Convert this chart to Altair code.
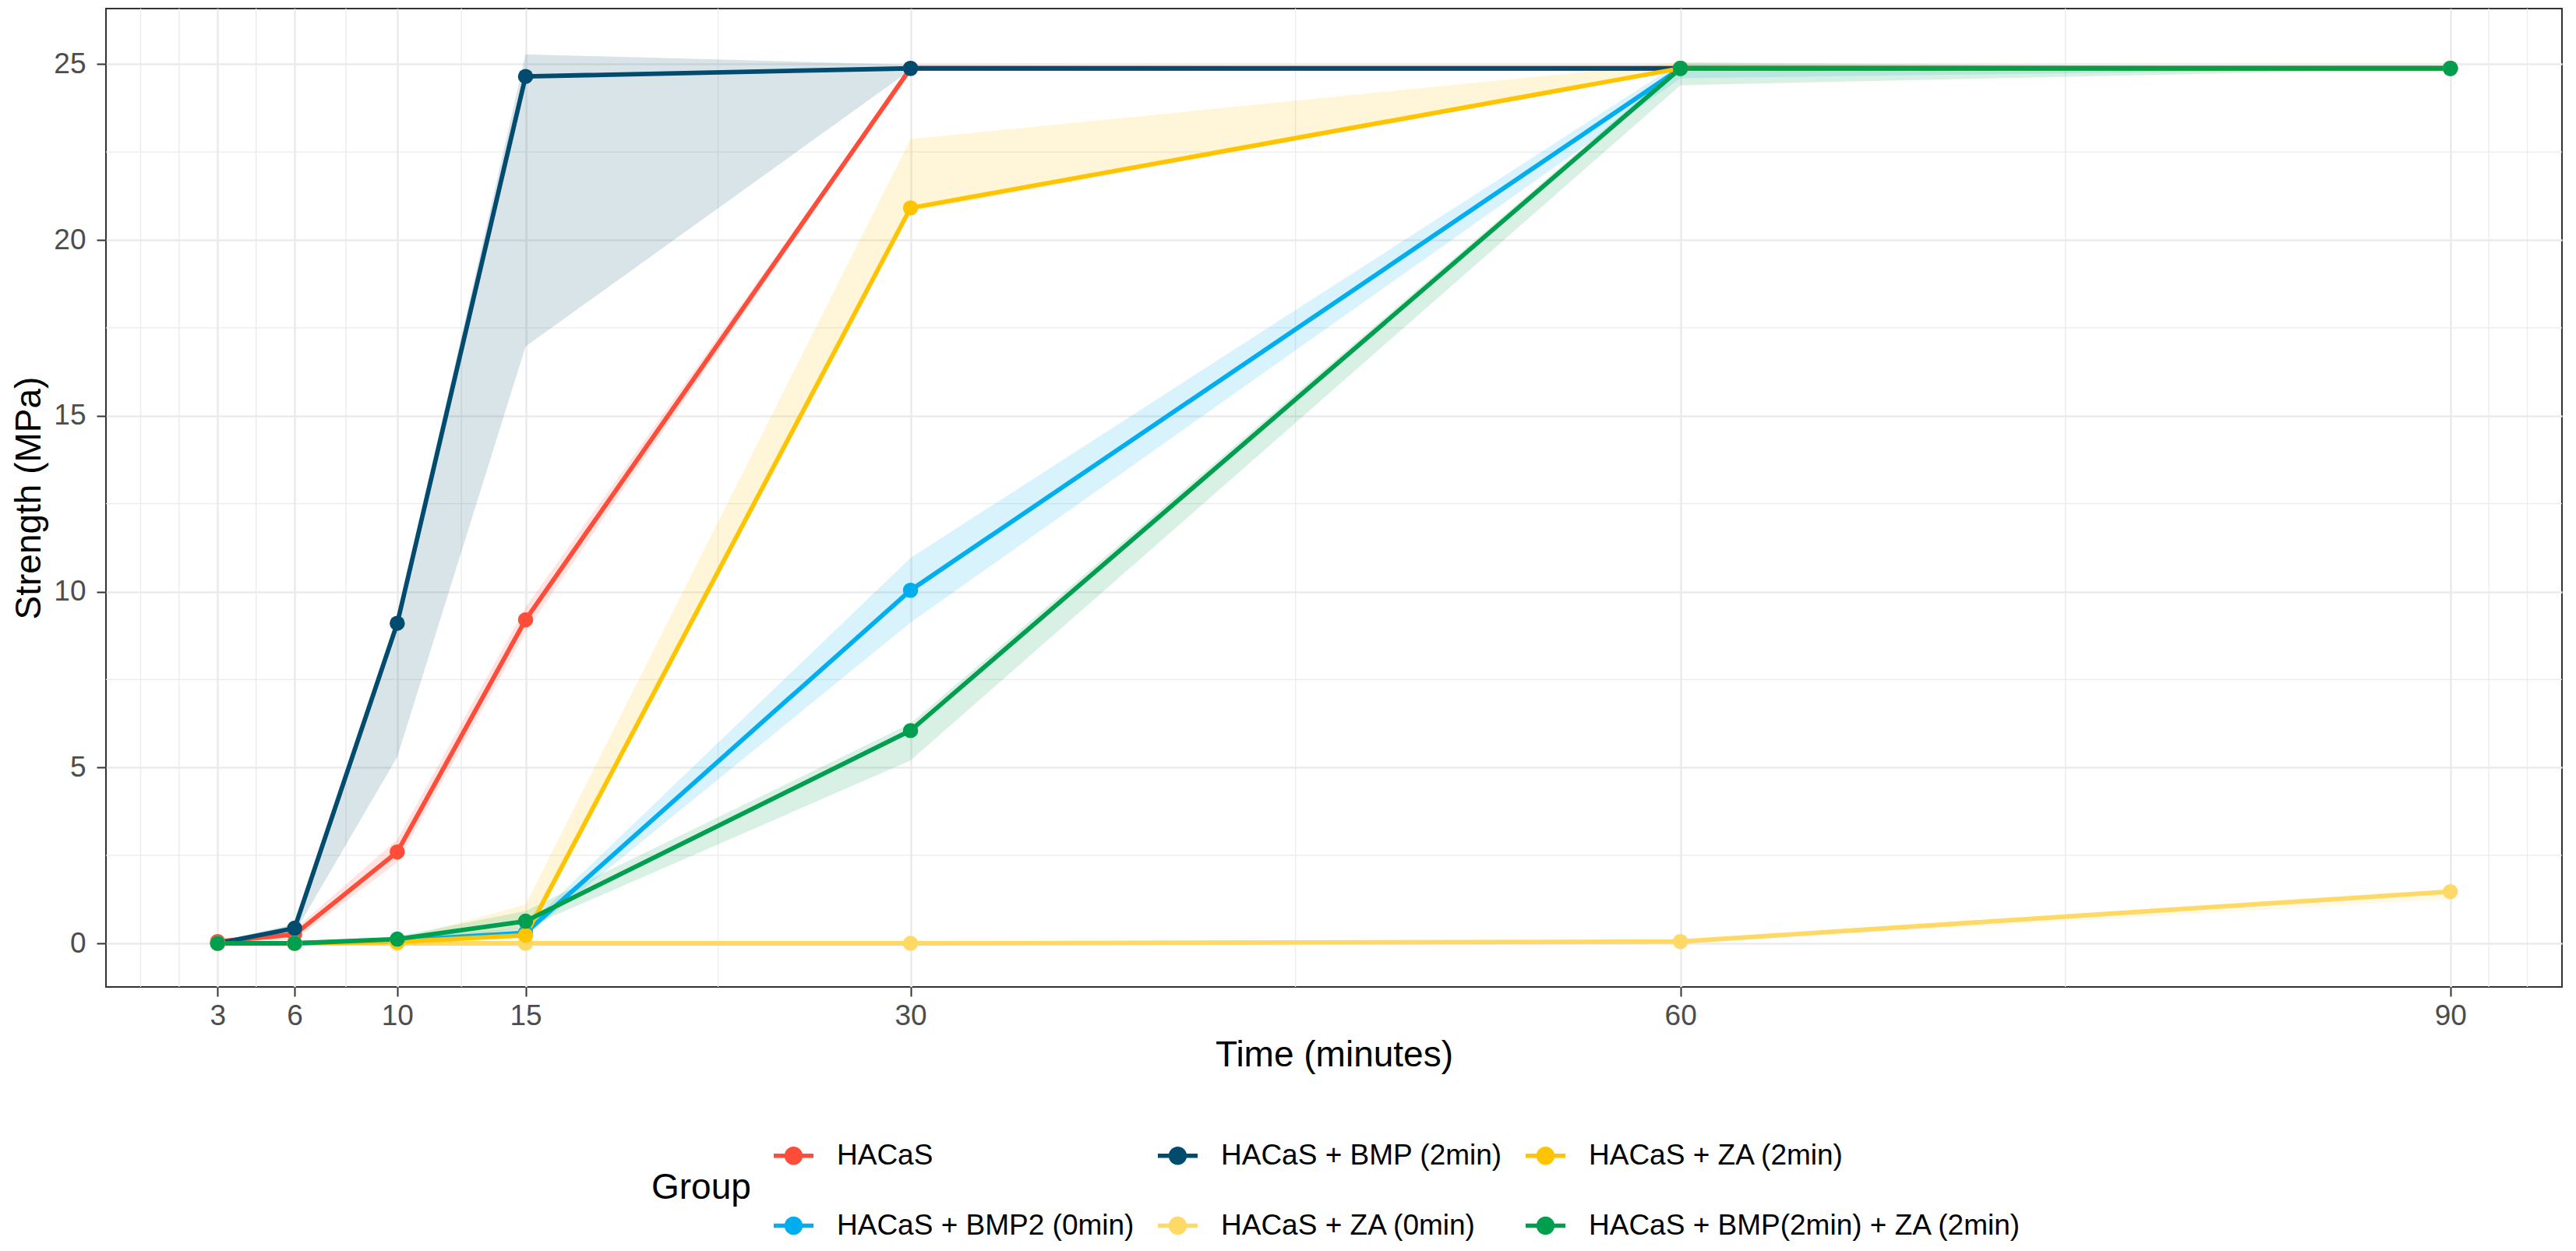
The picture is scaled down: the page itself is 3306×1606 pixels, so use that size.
import altair as alt
import pandas as pd

# ---------------- data ----------------
times = [3, 6, 10, 15, 30, 60, 90]

groups_z = [
    "HACaS",
    "HACaS + BMP2 (0min)",
    "HACaS + BMP (2min)",
    "HACaS + ZA (0min)",
    "HACaS + ZA (2min)",
    "HACaS + BMP(2min) + ZA (2min)",
]
legend_order = [
    "HACaS",
    "HACaS + BMP (2min)",
    "HACaS + ZA (2min)",
    "HACaS + BMP2 (0min)",
    "HACaS + ZA (0min)",
    "HACaS + BMP(2min) + ZA (2min)",
]
legend_colors = ["#FF4D3A", "#004B6E", "#FFC400", "#00AEEF", "#FFD966", "#009E4F"]

hacas_mean = [0.05, 0.25, 2.60, 9.20, 24.88, 24.88, 24.88]
hacas_lo   = [0.00, 0.10, 2.30, 8.85, 24.83, 24.88, 24.88]
hacas_hi   = [0.10, 0.40, 2.95, 9.55, 24.93, 24.88, 24.88]

bmp2_0_mean = [0.00, 0.00, 0.08, 0.30, 10.04, 24.88, 24.88]
bmp2_0_lo   = [0.00, 0.00, 0.03, 0.20, 9.12, 24.60, 24.88]
bmp2_0_hi   = [0.02, 0.02, 0.13, 0.45, 10.96, 25.05, 24.88]

bmp_2_mean = [0.00, 0.43, 9.10, 24.65, 24.88, 24.88, 24.88]
bmp_2_lo   = [0.00, 0.30, 5.30, 16.97, 24.83, 24.88, 24.88]
bmp_2_hi   = [0.05, 0.55, 9.25, 25.28, 24.98, 24.88, 24.88]

za_0_mean = [0.00, 0.00, 0.00, 0.00, 0.00, 0.05, 1.47]
za_0_lo   = [0.00, 0.00, 0.00, 0.00, 0.00, 0.00, 1.25]
za_0_hi   = [0.02, 0.02, 0.02, 0.02, 0.03, 0.10, 1.55]

za_2_mean = [0.00, 0.00, 0.04, 0.23, 20.91, 24.88, 24.88]
za_2_lo   = [0.00, 0.00, 0.00, 0.15, 20.80, 24.85, 24.88]
za_2_hi   = [0.02, 0.02, 0.10, 1.10, 22.87, 25.05, 24.88]

bmpza_mean = [0.00, 0.00, 0.12, 0.63, 6.05, 24.88, 24.88]
bmpza_lo   = [0.00, 0.00, 0.05, 0.43, 5.20, 24.40, 24.88]
bmpza_hi   = [0.02, 0.03, 0.20, 0.92, 6.25, 25.00, 24.88]

series = {
    "HACaS": (hacas_mean, hacas_lo, hacas_hi),
    "HACaS + BMP2 (0min)": (bmp2_0_mean, bmp2_0_lo, bmp2_0_hi),
    "HACaS + BMP (2min)": (bmp_2_mean, bmp_2_lo, bmp_2_hi),
    "HACaS + ZA (0min)": (za_0_mean, za_0_lo, za_0_hi),
    "HACaS + ZA (2min)": (za_2_mean, za_2_lo, za_2_hi),
    "HACaS + BMP(2min) + ZA (2min)": (bmpza_mean, bmpza_lo, bmpza_hi),
}

x_ticks = [3, 6, 10, 15, 30, 60, 90]
y_ticks = [0, 5, 10, 15, 20, 25]
x_minor = [0, 1.5, 4.5, 8, 12.5, 22.5, 45, 75, 91.5, 93]
y_minor = [2.5, 7.5, 12.5, 17.5, 22.5]

# ---------------- table ----------------
rows = []
for g in groups_z:
    m, lo, hi = series[g]
    for t, a, b, c in zip(times, m, lo, hi):
        rows.append({"Time": t, "Group": g, "Strength": a, "Lo": b, "Hi": c})
df = pd.DataFrame(rows)

W, H = 3152, 1256
FONT = "Liberation Sans"
xscale = alt.Scale(domain=[-1.35, 94.35], nice=False, zero=False)
yscale = alt.Scale(domain=[-1.24, 26.58], nice=False, zero=False)
cscale = alt.Scale(domain=legend_order, range=legend_colors)

x_axis = alt.Axis(
    values=x_ticks, title="Time (minutes)", grid=True,
    gridColor="#EBEBEB", gridWidth=2.6, domain=False,
    tickColor="#333333", tickWidth=2, tickSize=12,
    labelFontSize=37, labelColor="#4D4D4D", labelFont=FONT,
    labelBaseline="middle", labelPadding=25, labelFlush=False,
    titleFontSize=46, titleFontWeight="normal", titleColor="black",
    titleFont=FONT, titleBaseline="alphabetic", titleY=101,
)
y_axis = alt.Axis(
    values=y_ticks, title="Strength (MPa)", grid=True,
    gridColor="#EBEBEB", gridWidth=2.6, domain=False,
    tickColor="#333333", tickWidth=2, tickSize=12,
    labelFontSize=37, labelColor="#4D4D4D", labelFont=FONT,
    labelPadding=14, labelFlush=False,
    titleFontSize=46, titleFontWeight="normal", titleColor="black",
    titleFont=FONT, titleBaseline="middle", titleX=-99,
)

key_path = ("M-1,-0.11L1,-0.11L1,0.11L-1,0.11Z "
            "M0.46,0A0.46,0.46,0,1,1,-0.46,0A0.46,0.46,0,1,1,0.46,0Z")

group_legend = alt.Legend(
    title="Group", orient="none", legendX=700, legendY=1447,
    direction="horizontal", columns=3, padding=0,
    symbolType=key_path, symbolSize=2601, symbolStrokeWidth=0,
    symbolOpacity=1,
    labelFontSize=37, labelFont=FONT, labelColor="black",
    labelLimit=1000, labelOffset=30, columnPadding=30, rowPadding=46,
    titleOrient="left", titleAnchor="middle", titleBaseline="middle",
    titleFontSize=46, titleFont=FONT, titleFontWeight="normal",
    titleColor="black", titlePadding=29,
)
color_enc = alt.Color("Group:N", scale=cscale, legend=group_legend)

minor_x = alt.Chart(pd.DataFrame({"Time": x_minor})).mark_rule(
    color="#EBEBEB", strokeWidth=1.3
).encode(
    x=alt.X("Time:Q", scale=xscale, axis=x_axis),
    y=alt.value(0), y2=alt.value(H),
)
minor_y = alt.Chart(pd.DataFrame({"Strength": y_minor})).mark_rule(
    color="#EBEBEB", strokeWidth=1.3
).encode(
    y=alt.Y("Strength:Q", scale=yscale, axis=y_axis),
    x=alt.value(0), x2=alt.value(W),
)

base = alt.Chart(df)

ribbon = base.mark_area(opacity=0.15).encode(
    x=alt.X("Time:Q", scale=xscale, axis=x_axis),
    y=alt.Y("Lo:Q", scale=yscale, axis=y_axis),
    y2="Hi:Q",
    color=color_enc,
)

lines = base.mark_line(strokeWidth=5.8, strokeJoin="round").encode(
    x=alt.X("Time:Q", scale=xscale, axis=x_axis),
    y=alt.Y("Strength:Q", scale=yscale, axis=y_axis),
    color=color_enc,
)

points = base.mark_circle(size=380, opacity=1).encode(
    x=alt.X("Time:Q", scale=xscale, axis=x_axis),
    y=alt.Y("Strength:Q", scale=yscale, axis=y_axis),
    color=color_enc,
)

chart = alt.layer(minor_x, minor_y, ribbon, lines, points).properties(
    width=W, height=H,
    autosize=alt.AutoSizeParams(type="none"),
    padding={"left": 128, "top": 3, "right": 10, "bottom": 330},
    background="white",
).configure(
    font=FONT,
    view=alt.ViewConfig(stroke="#333333", strokeWidth=2),
)

chart.save("out.html", embed_options={"renderer": "svg", "actions": False})
